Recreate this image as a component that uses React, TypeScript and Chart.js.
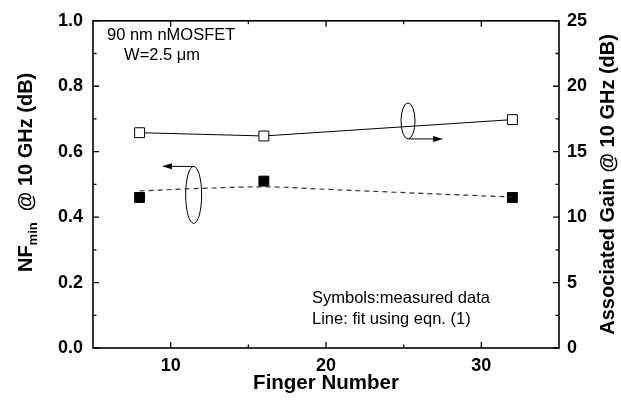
import React, { useEffect, useRef } from 'react';
import { Chart, registerables } from 'chart.js';

Chart.register(...registerables);

// ---- data ----
const fingers = [8, 16, 32];
const nfMin = [0.46, 0.51, 0.46];
const assocGain = [16.45, 16.2, 17.45];
const fitFingers = [8, 12, 16, 20, 24, 28, 32];
const nfFit = [0.48, 0.488, 0.4925, 0.485, 0.477, 0.469, 0.4615];
const xTickValues = [10, 20, 30];
const xMinorValues = [15, 25];
const leftTickValues = [0, 0.2, 0.4, 0.6, 0.8, 1.0];
const rightTickValues = [0, 5, 10, 15, 20, 25];

const FONT = 'Arial, "Liberation Sans", Helvetica, sans-serif';

const decorPlugin = {
  id: 'decor',
  afterDraw(chart: any) {
    const ctx = chart.ctx as CanvasRenderingContext2D;
    const { left, right, top, bottom } = chart.chartArea;
    const x = chart.scales.x;
    const y = chart.scales.y;
    const y1 = chart.scales.y1;
    ctx.save();
    ctx.strokeStyle = '#000';
    ctx.fillStyle = '#000';

    // frame
    ctx.lineWidth = 1.6;
    ctx.strokeRect(left, top, right - left, bottom - top);

    // tick marks (inward)
    ctx.lineWidth = 1.3;
    const major = 6;
    const minor = 3.5;
    ctx.beginPath();
    xTickValues.forEach((v) => {
      const px = x.getPixelForValue(v);
      ctx.moveTo(px, bottom); ctx.lineTo(px, bottom - major);
      ctx.moveTo(px, top); ctx.lineTo(px, top + major);
    });
    xMinorValues.forEach((v) => {
      const px = x.getPixelForValue(v);
      ctx.moveTo(px, bottom); ctx.lineTo(px, bottom - minor);
      ctx.moveTo(px, top); ctx.lineTo(px, top + minor);
    });
    leftTickValues.forEach((v, i) => {
      const py = y.getPixelForValue(v);
      ctx.moveTo(left, py); ctx.lineTo(left + major, py);
      if (i < leftTickValues.length - 1) {
        const pm = y.getPixelForValue(v + 0.1);
        ctx.moveTo(left, pm); ctx.lineTo(left + minor, pm);
      }
    });
    rightTickValues.forEach((v, i) => {
      const py = y1.getPixelForValue(v);
      ctx.moveTo(right, py); ctx.lineTo(right - major, py);
      if (i < rightTickValues.length - 1) {
        const pm = y1.getPixelForValue(v + 2.5);
        ctx.moveTo(right, pm); ctx.lineTo(right - minor, pm);
      }
    });
    ctx.stroke();

    // axis titles
    const tFont = `bold 20px ${FONT}`;
    ctx.font = `bold 20.5px ${FONT}`;
    ctx.textBaseline = 'middle';
    ctx.textAlign = 'center';
    ctx.fillText('Finger Number', (left + right) / 2, 383);

    // right title (reads bottom to top)
    ctx.font = tFont;
    ctx.save();
    ctx.translate(608, (top + bottom) / 2);
    ctx.rotate(-Math.PI / 2);
    ctx.fillText('Associated Gain @ 10 GHz (dB)', 0, 0);
    ctx.restore();

    // left title with subscript
    ctx.save();
    ctx.translate(25, (top + bottom) / 2 - 12);
    ctx.rotate(-Math.PI / 2);
    ctx.textAlign = 'left';
    ctx.textBaseline = 'alphabetic';
    const p1 = 'NF';
    const p2 = 'min';
    const p3 = '  @ 10 GHz (dB)';
    const subFont = `bold 13px ${FONT}`;
    ctx.font = tFont;
    const w1 = ctx.measureText(p1).width;
    const w3 = ctx.measureText(p3).width;
    ctx.font = subFont;
    const w2 = ctx.measureText(p2).width;
    const total = w1 + w2 + w3;
    let cx = -total / 2;
    const base = 7;
    ctx.font = tFont;
    ctx.fillText(p1, cx, base);
    cx += w1;
    ctx.font = subFont;
    ctx.fillText(p2, cx, base + 5);
    cx += w2;
    ctx.font = tFont;
    ctx.fillText(p3, cx, base);
    ctx.restore();

    // annotation texts
    ctx.font = `16.5px ${FONT}`;
    ctx.textAlign = 'left';
    ctx.textBaseline = 'middle';
    ctx.fillText('90 nm nMOSFET', x.getPixelForValue(5.9), y.getPixelForValue(0.955));
    ctx.fillText('W=2.5 \u03BCm', x.getPixelForValue(7.0), y.getPixelForValue(0.895));
    ctx.fillText('Symbols:measured data', x.getPixelForValue(19.1), y.getPixelForValue(0.15));
    ctx.fillText('Line: fit using eqn. (1)', x.getPixelForValue(19.1), y.getPixelForValue(0.087));

    // ellipses + arrows
    const arrow = (x0: number, yy: number, x1: number) => {
      const dir = Math.sign(x1 - x0);
      ctx.beginPath();
      ctx.moveTo(x0, yy);
      ctx.lineTo(x1 - dir * 8, yy);
      ctx.stroke();
      ctx.beginPath();
      ctx.moveTo(x1, yy);
      ctx.lineTo(x1 - dir * 10, yy - 3);
      ctx.lineTo(x1 - dir * 10, yy + 3);
      ctx.closePath();
      ctx.fill();
    };
    ctx.lineWidth = 1;
    // left ellipse (NFmin -> left axis)
    const e1x = x.getPixelForValue(11.48);
    const e1y = y.getPixelForValue(0.468);
    ctx.beginPath();
    ctx.ellipse(e1x, e1y, 8, 28.5, 0, 0, Math.PI * 2);
    ctx.stroke();
    arrow(e1x, e1y - 28.5, x.getPixelForValue(9.44));
    // right ellipse (gain -> right axis)
    const e2x = x.getPixelForValue(25.28);
    const e2y = y.getPixelForValue(0.694);
    ctx.beginPath();
    ctx.ellipse(e2x, e2y, 7, 18, 0, 0, Math.PI * 2);
    ctx.stroke();
    arrow(e2x + 1, e2y + 18, x.getPixelForValue(27.54));

    ctx.restore();
  },
};

export default function App() {
  const ref = useRef<HTMLCanvasElement | null>(null);

  useEffect(() => {
    document.body.style.margin = '0';
    const canvas = ref.current!;
    const chart = new Chart(canvas, {
      type: 'scatter',
      data: {
        datasets: [
          {
            label: 'NFmin fit',
            data: fitFingers.map((f, i) => ({ x: f, y: nfFit[i] })),
            yAxisID: 'y',
            showLine: true,
            borderColor: '#333',
            borderWidth: 1.2,
            borderDash: [5, 4],
            pointRadius: 0,
            tension: 0.4,
            cubicInterpolationMode: 'monotone',
          },
          {
            label: 'Associated gain',
            data: fingers.map((f, i) => ({ x: f, y: assocGain[i] })),
            yAxisID: 'y1',
            showLine: true,
            borderColor: '#000',
            borderWidth: 1,
            pointStyle: 'rect',
            pointRadius: 7,
            pointBorderWidth: 1,
            pointBorderColor: '#000',
            pointBackgroundColor: '#fff',
          },
          {
            label: 'NFmin measured',
            data: fingers.map((f, i) => ({ x: f, y: nfMin[i] })),
            yAxisID: 'y',
            showLine: false,
            pointStyle: 'rect',
            pointRadius: 7,
            pointBorderWidth: 1,
            pointBorderColor: '#000',
            pointBackgroundColor: '#000',
          },
        ],
      },
      options: {
        animation: false,
        responsive: false,
        maintainAspectRatio: false,
        layout: { padding: { top: 15, left: 0, right: 0, bottom: 0 } },
        plugins: { legend: { display: false }, tooltip: { enabled: false } },
        scales: {
          x: {
            type: 'linear',
            min: 5,
            max: 35,
            grid: { display: false, drawTicks: false },
            border: { display: false },
            afterBuildTicks: (s: any) => {
              s.ticks = xTickValues.map((v) => ({ value: v }));
            },
            afterFit: (s: any) => {
              s.height = 57;
            },
            ticks: {
              padding: 7,
              color: '#000',
              font: { family: FONT, size: 18, weight: 'bold' },
            },
          },
          y: {
            type: 'linear',
            position: 'left',
            min: 0,
            max: 1,
            grid: { display: false, drawTicks: false },
            border: { display: false },
            afterBuildTicks: (s: any) => {
              s.ticks = leftTickValues.map((v) => ({ value: v }));
            },
            afterFit: (s: any) => {
              s.width = 93;
            },
            ticks: {
              padding: 10,
              color: '#000',
              font: { family: FONT, size: 18, weight: 'bold' },
              callback: (v: any) => Number(v).toFixed(1),
            },
          },
          y1: {
            type: 'linear',
            position: 'right',
            min: 0,
            max: 25,
            grid: { display: false, drawTicks: false },
            border: { display: false },
            afterBuildTicks: (s: any) => {
              s.ticks = rightTickValues.map((v) => ({ value: v }));
            },
            afterFit: (s: any) => {
              s.width = 62;
            },
            ticks: {
              padding: 8,
              color: '#000',
              font: { family: FONT, size: 18, weight: 'bold' },
              callback: (v: any) => String(v),
            },
          },
        },
      },
      plugins: [decorPlugin],
    } as any);
    return () => chart.destroy();
  }, []);

  return (
    <div style={{ position: 'absolute', left: 0, top: 0, width: 621, height: 405, background: '#fff' }}>
      <canvas ref={ref} width={621} height={405} style={{ display: 'block', width: 621, height: 405 }} />
    </div>
  );
}
